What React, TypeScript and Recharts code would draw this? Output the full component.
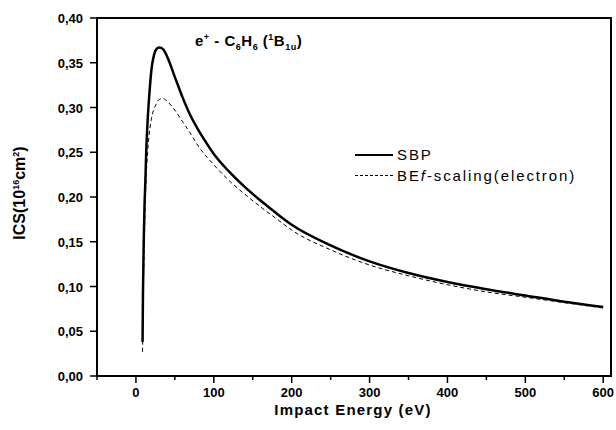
import { LineChart, Line, XAxis, YAxis, ReferenceArea } from 'recharts';

// SBP curve
const sbpEnergy = [8.5, 9, 10, 11, 12, 13, 15, 17, 20, 23, 26, 30, 35, 40, 50, 60, 70, 80, 90, 100, 120, 140, 160, 180, 200, 250, 300, 350, 400, 450, 500, 550, 600];
const sbpIcs = [0.038, 0.09, 0.15, 0.19, 0.215, 0.245, 0.285, 0.312, 0.343, 0.358, 0.365, 0.367, 0.365, 0.357, 0.334, 0.311, 0.291, 0.275, 0.261, 0.248, 0.228, 0.211, 0.196, 0.182, 0.169, 0.146, 0.128, 0.115, 0.105, 0.097, 0.09, 0.083, 0.077];

// BEf-scaling (electron) curve
const befEnergy = [8.5, 9, 10, 11, 12, 13, 15, 17, 20, 25, 30, 35, 40, 50, 60, 70, 80, 100, 120, 140, 160, 180, 200, 250, 300, 350, 400, 450, 500, 550, 600];
const befIcs = [0.027, 0.07, 0.12, 0.16, 0.195, 0.22, 0.25, 0.27, 0.288, 0.302, 0.309, 0.31, 0.307, 0.297, 0.284, 0.271, 0.257, 0.236, 0.218, 0.203, 0.189, 0.176, 0.163, 0.141, 0.124, 0.112, 0.102, 0.094, 0.088, 0.082, 0.076];

const xTicks = [-50, 0, 50, 100, 150, 200, 250, 300, 350, 400, 450, 500, 550, 600];
const yTicks = [0, 0.025, 0.05, 0.075, 0.1, 0.125, 0.15, 0.175, 0.2, 0.225, 0.25, 0.275, 0.3, 0.325, 0.35, 0.375, 0.4];

const sbpData = sbpEnergy.map((e, i) => ({ e, v: sbpIcs[i] }));
const befData = befEnergy.map((e, i) => ({ e, v: befIcs[i] }));

const FONT = '"Liberation Sans", Arial, sans-serif';

function XTick({ x, y, payload }: any) {
  const major = payload.value % 100 === 0;
  return (
    <g>
      <line x1={x} x2={x} y1={y} y2={y + (major ? 7 : 4)} stroke="#000" strokeWidth={1.5} />
      {major && (
        <text x={x} y={y + 21} textAnchor="middle" fontFamily={FONT} fontWeight="bold" fontSize={13} fill="#000">
          {payload.value}
        </text>
      )}
    </g>
  );
}

function YTick({ x, y, payload }: any) {
  const major = Math.round(payload.value * 1000) % 50 === 0;
  return (
    <g>
      <line x1={x - (major ? 7 : 4)} x2={x} y1={y} y2={y} stroke="#000" strokeWidth={1.5} />
      {major && (
        <text x={x - 14} y={y + 5} textAnchor="end" fontFamily={FONT} fontWeight="bold" fontSize={13} fill="#000">
          {payload.value.toFixed(2).replace('.', ',')}
        </text>
      )}
    </g>
  );
}

const small = { fontSize: 9 };

export default function App() {
  return (
    <div style={{ position: 'absolute', left: 0, top: 0, width: 616, height: 430, background: '#fff', fontFamily: FONT }}>
      <LineChart width={616} height={430} margin={{ top: 18, right: 5, bottom: 0, left: 0 }}>
        <XAxis
          dataKey="e"
          type="number"
          domain={[-50, 610]}
          ticks={xTicks}
          tick={<XTick />}
          tickLine={false}
          tickSize={0}
          tickMargin={0}
          height={54}
          axisLine={{ stroke: '#000', strokeWidth: 2 }}
          allowDuplicatedCategory={false}
        />
        <YAxis
          type="number"
          domain={[0, 0.4]}
          ticks={yTicks}
          tick={<YTick />}
          tickLine={false}
          tickSize={0}
          tickMargin={0}
          width={97}
          axisLine={{ stroke: '#000', strokeWidth: 2 }}
        />
        <ReferenceArea x1={-50} x2={610} y1={0} y2={0.4} fill="none" stroke="#000" strokeWidth={2} ifOverflow="visible" />
        <Line data={befData} dataKey="v" type="monotone" stroke="#000" strokeWidth={1} strokeDasharray="4 3" dot={false} isAnimationActive={false} />
        <Line data={sbpData} dataKey="v" type="monotone" stroke="#000" strokeWidth={2.5} dot={false} isAnimationActive={false} />
      </LineChart>

      <div style={{ position: 'absolute', left: 195, top: 32, fontWeight: 'bold', fontSize: 15, letterSpacing: 0.5, whiteSpace: 'nowrap' }}>
        e<sup style={small}>+</sup> - C<sub style={small}>6</sub>H<sub style={small}>6</sub> (<sup style={small}>1</sup>B<sub style={small}>1u</sub>)
      </div>

      <div style={{ position: 'absolute', left: 355, top: 144, fontSize: 15, letterSpacing: 1.9, lineHeight: '21px', whiteSpace: 'nowrap' }}>
        <div style={{ display: 'flex', alignItems: 'center' }}>
          <span style={{ display: 'inline-block', width: 38, borderTop: '2.5px solid #000', marginRight: 4 }} />
          <span>SBP</span>
        </div>
        <div style={{ display: 'flex', alignItems: 'center' }}>
          <span style={{ display: 'inline-block', width: 38, borderTop: '1px dashed #000', marginRight: 4 }} />
          <span>BE<i>f</i>-scaling(electron)</span>
        </div>
      </div>

      <div style={{ position: 'absolute', left: 353, top: 402, transform: 'translateX(-50%)', fontWeight: 'bold', fontSize: 15, lineHeight: 1, letterSpacing: 1.2, whiteSpace: 'nowrap' }}>
        Impact Energy (eV)
      </div>

      <div style={{ position: 'absolute', left: 20, top: 193, transform: 'translate(-50%, -50%) rotate(-90deg)', fontWeight: 'bold', fontSize: 16, whiteSpace: 'nowrap' }}>
        ICS(10<sup style={{ fontSize: 9 }}>16</sup>cm<sup style={{ fontSize: 9 }}>2</sup>)
      </div>
    </div>
  );
}
